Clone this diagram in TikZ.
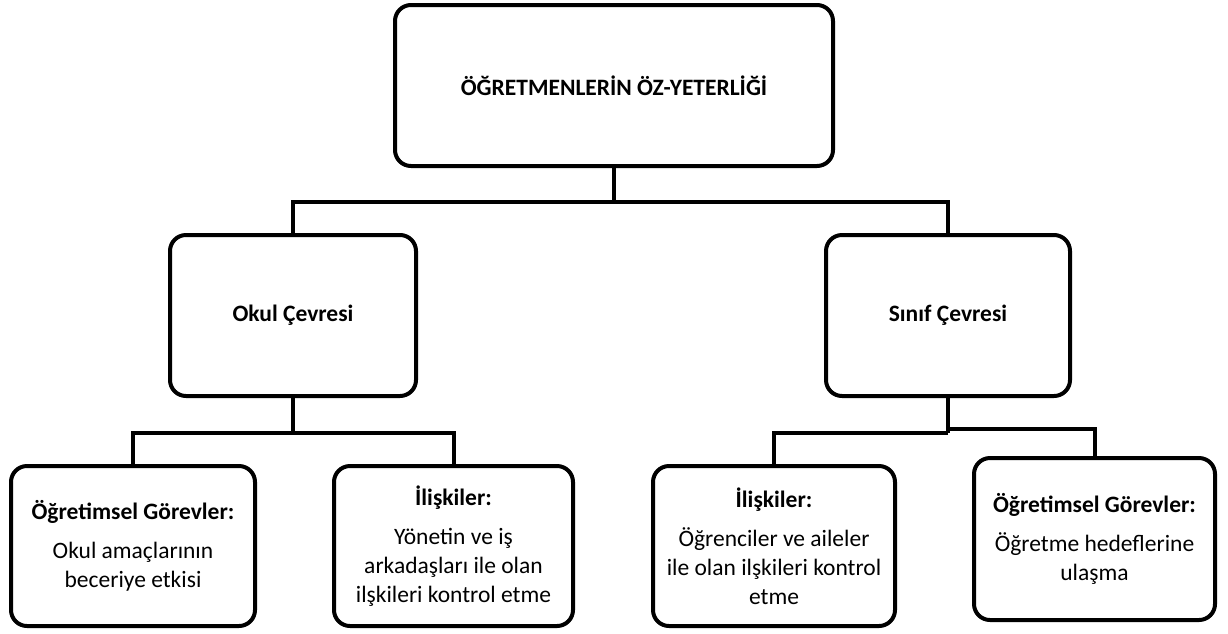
\documentclass[tikz,border=0pt]{standalone}
\usepackage{fontspec}
\setmainfont{Carlito}
\begin{document}
\begin{tikzpicture}[x=1pt,y=-1pt,
  box/.style={draw, line width=4pt, rounded corners=16pt, align=center, inner sep=0pt,
    font=\fontsize{23.5}{29}\selectfont},
  conn/.style={line width=4pt, line join=miter}]
\useasboundingbox (0,0) rectangle (1228,633);
\node[box, minimum width=438pt, minimum height=161pt] (top) at (614,85.5) {\textbf{ÖĞRETMENLERİN ÖZ-YETERLİĞİ}};
\node[box, minimum width=246pt, minimum height=161pt] (okul) at (293,315.5) {\textbf{Okul Çevresi}};
\node[box, minimum width=244pt, minimum height=161pt] (sinif) at (948,315.5) {\textbf{Sınıf Çevresi}};
\node[box, minimum width=244pt, minimum height=160pt] (a) at (133,546) {\textbf{Öğretimsel Görevler:}\\[10pt]Okul amaçlarının\\beceriye etkisi};
\node[box, minimum width=239pt, minimum height=160pt] (b) at (453.5,546) {\textbf{İlişkiler:}\\[10pt]Yönetin ve iş\\arkadaşları ile olan\\ilşkileri kontrol etme};
\node[box, minimum width=242pt, minimum height=160pt] (c) at (774,546) {\textbf{İlişkiler:}\\[10pt]Öğrenciler ve aileler\\ile olan ilşkileri kontrol\\etme};
\node[box, minimum width=241pt, minimum height=162pt] (d) at (1094.5,539) {\textbf{Öğretimsel Görevler:}\\[10pt]Öğretme hedeflerine\\ulaşma};
\path (top.south) ++(0,34) coordinate (j1);
\path (okul.south) ++(0,35) coordinate (j2);
\path (sinif.south) ++(0,35) coordinate (j3);
\path (sinif.south) ++(0,31) coordinate (j4);
\draw[conn] (top.south) -- (j1);
\draw[conn] (okul.north) |- (j1) -| (sinif.north);
\draw[conn] (okul.south) -- (j2);
\draw[conn] (a.north) |- (j2) -| (b.north);
\draw[conn] (sinif.south) -- (j3);
\draw[conn] (j3) -| (c.north);
\draw[conn] (j4) -| (d.north);
\end{tikzpicture}
\end{document}
